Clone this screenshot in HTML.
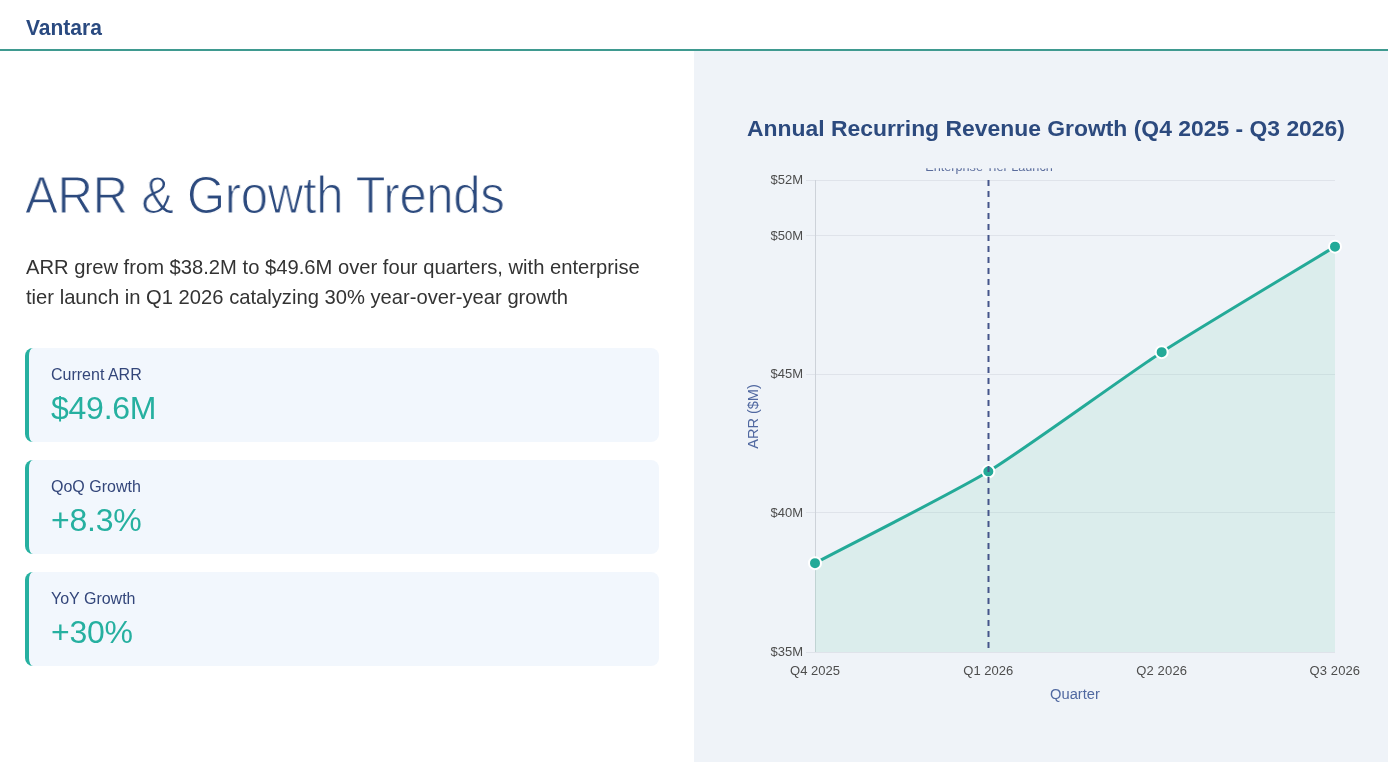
<!DOCTYPE html>
<html><head><meta charset="utf-8">
<style>
*{margin:0;padding:0;box-sizing:border-box}
.hdr,h1,.desc,.card,svg{will-change:transform}
html,body{width:1388px;height:762px;overflow:hidden;background:#fff;font-family:"Liberation Sans",sans-serif}
.hdr{position:absolute;left:0;top:0;width:1388px;height:51px;border-bottom:2px solid #3f9a90;background:#fff}
.brand{position:absolute;left:26px;top:15px;font-size:21px;font-weight:bold;color:#2a4a80;line-height:26px;transform:scaleY(1.07);transform-origin:0 20px}
.right{position:absolute;left:694px;top:51px;width:694px;height:711px;background:#eff3f8}
h1{position:absolute;left:25px;top:167px;font-size:51px;font-weight:normal;color:#2c4a7e;line-height:58px;white-space:nowrap;letter-spacing:-0.4px;-webkit-text-stroke:1.2px #fff;transform:scaleX(0.965);transform-origin:0 0}
.desc{position:absolute;left:26px;top:252px;width:660px;font-size:20.2px;line-height:30px;color:#333;will-change:transform}
.card{position:absolute;left:25px;width:634px;height:94px;background:#f2f7fd;border-left:4px solid #26b0a0;border-radius:8px}
.card .lbl{position:absolute;left:22px;top:17px;font-size:16px;color:#33467a;line-height:20px}
.card .val{position:absolute;left:22px;top:40.5px;font-size:32px;color:#26b0a0;line-height:38px;letter-spacing:-0.25px}
</style></head><body>
<div class="hdr"><div class="brand">Vantara</div></div>
<div class="right"></div>
<h1>ARR &amp; Growth Trends</h1>
<div class="desc">ARR grew from $38.2M to $49.6M over four quarters, with enterprise<br>tier launch in Q1 2026 catalyzing 30% year-over-year growth</div>
<div class="card" style="top:348px"><div class="lbl">Current ARR</div><div class="val">$49.6M</div></div>
<div class="card" style="top:460px"><div class="lbl">QoQ Growth</div><div class="val">+8.3%</div></div>
<div class="card" style="top:572px"><div class="lbl">YoY Growth</div><div class="val">+30%</div></div>
<svg style="position:absolute;left:0;top:0" width="1388" height="762" viewBox="0 0 1388 762" font-family="Liberation Sans, sans-serif">
<defs><clipPath id="lc"><rect x="694" y="168.3" width="694" height="600"/></clipPath></defs>
<text x="1046" y="136" text-anchor="middle" font-size="22.9" font-weight="bold" fill="#2c4a7e">Annual Recurring Revenue Growth (Q4 2025 - Q3 2026)</text>
<g stroke="#dfe3ea" stroke-width="1">
<line x1="806" y1="180.5" x2="1335" y2="180.5"/>
<line x1="806" y1="235.5" x2="1335" y2="235.5"/>
<line x1="806" y1="374.5" x2="1335" y2="374.5"/>
<line x1="806" y1="512.5" x2="1335" y2="512.5"/>
<line x1="806" y1="652.5" x2="1335" y2="652.5"/>
<line x1="815.5" y1="180" x2="815.5" y2="652" stroke="#cdd2d9"/>
</g>
<g font-size="13" fill="#4d4d4d" text-anchor="end">
<text x="803" y="184">$52M</text>
<text x="803" y="240">$50M</text>
<text x="803" y="378">$45M</text>
<text x="803" y="517">$40M</text>
<text x="803" y="656">$35M</text>
</g>
<g font-size="13" fill="#4d4d4d" text-anchor="middle">
<text x="815" y="675" textLength="49.8" lengthAdjust="spacing">Q4 2025</text>
<text x="988.3" y="675">Q1 2026</text>
<text x="1161.6" y="675" textLength="50.9" lengthAdjust="spacing">Q2 2026</text>
<text x="1334.8" y="675" textLength="50.6" lengthAdjust="spacing">Q3 2026</text>
</g>
<text x="1075" y="699" text-anchor="middle" font-size="14.7" fill="#5068a0">Quarter</text>
<text transform="translate(758,416.5) rotate(-90)" text-anchor="middle" font-size="14.5" fill="#5068a0">ARR ($M)</text>
<path d="M815.00,563.15 C849.67,544.83 954.89,491.88 988.33,471.53 C1024.23,449.68 1126.37,375.04 1161.67,352.14 C1195.70,330.06 1300.33,267.74 1335.00,246.64 L1335,652 L815,652 Z" fill="rgb(139,213,188)" fill-opacity="0.2"/>
<path d="M815.00,563.15 C849.67,544.83 954.89,491.88 988.33,471.53 C1024.23,449.68 1126.37,375.04 1161.67,352.14 C1195.70,330.06 1300.33,267.74 1335.00,246.64" fill="none" stroke="#24aa98" stroke-width="3"/>
<g fill="#24aa98" stroke="#fff" stroke-width="2">
<circle cx="815" cy="563.15" r="6"/>
<circle cx="988.33" cy="471.53" r="6"/>
<circle cx="1161.67" cy="352.14" r="6"/>
<circle cx="1335" cy="246.64" r="6"/>
</g>
<line x1="988.5" y1="180" x2="988.5" y2="652" stroke="#44558a" stroke-width="2" stroke-dasharray="6,5"/>
<text x="989" y="171.3" text-anchor="middle" font-size="12.7" fill="#5a6c9c" clip-path="url(#lc)">Enterprise Tier Launch</text>
</svg>
</body></html>
